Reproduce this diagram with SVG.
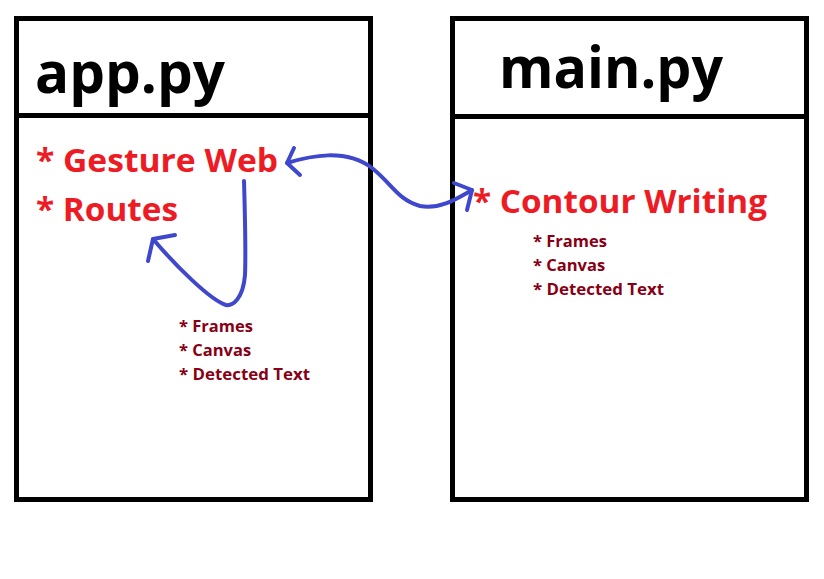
<svg xmlns="http://www.w3.org/2000/svg" width="824" height="579" viewBox="0 0 824 579">
<style>
.box{fill:#fff;stroke:#000;stroke-width:5}
.div{stroke:#000;stroke-width:5}
.title{font-family:"Open Sans","Liberation Sans",sans-serif;font-weight:bold;font-size:58px;fill:#000}
.item{font-family:"Open Sans","Liberation Sans",sans-serif;font-weight:bold;font-size:32px;fill:#ED1C24}
.sub{font-family:"Open Sans","Liberation Sans",sans-serif;font-weight:bold;font-size:16.5px;fill:#880015}
.conn{fill:none;stroke:#3F48CC;stroke-width:4;stroke-linecap:round;stroke-linejoin:round}
</style>
<rect width="824" height="579" fill="#fff"/>
<g id="app">
<rect class="box" x="16.5" y="18.5" width="354" height="481"/>
<line class="div" x1="16.5" y1="115.5" x2="370.5" y2="115.5"/>
<text class="title" x="35" y="93" textLength="190" lengthAdjust="spacingAndGlyphs">app.py</text>
<text class="item" x="36" y="172" textLength="242" lengthAdjust="spacingAndGlyphs">* Gesture Web</text>
<text class="item" x="36" y="221" textLength="142" lengthAdjust="spacingAndGlyphs">* Routes</text>
<text class="sub" x="179" y="332">* Frames</text>
<text class="sub" x="179" y="356">* Canvas</text>
<text class="sub" x="179" y="380" textLength="131" lengthAdjust="spacingAndGlyphs">* Detected Text</text>
</g>
<g id="main">
<rect class="box" x="452.5" y="18.5" width="354" height="481"/>
<line class="div" x1="452.5" y1="116.5" x2="806.5" y2="116.5"/>
<text class="title" x="499" y="88" textLength="224" lengthAdjust="spacingAndGlyphs">main.py</text>
<text class="item" x="473" y="213" textLength="294" lengthAdjust="spacingAndGlyphs">* Contour Writing</text>
<text class="sub" x="533" y="247">* Frames</text>
<text class="sub" x="533" y="271">* Canvas</text>
<text class="sub" x="533" y="295" textLength="131" lengthAdjust="spacingAndGlyphs">* Detected Text</text>
</g>
<g id="connectors">
<path class="conn" d="M287,163 C310,156 345,148 372,168 C392,184 398,200 420,206 C440,210 458,198 472,190"/>
<path class="conn" d="M294,148 L287,163 L300,175"/>
<path class="conn" d="M454,183 L472,190 L467,210"/>
<path class="conn" d="M244,181 C245,215 246,250 245,275 C243,300 232,306 226,305 C210,300 175,265 153,239"/>
<path class="conn" d="M175,235 L153,239 L148,261"/>
</g>
</svg>
